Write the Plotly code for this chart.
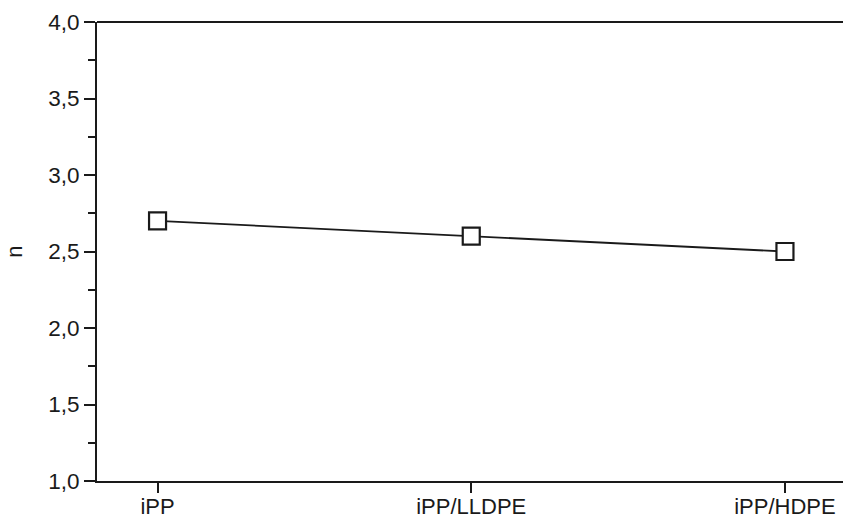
import plotly.graph_objects as go

categories = ["iPP", "iPP/LLDPE", "iPP/HDPE"]
n_values = [2.7, 2.6, 2.5]
y_tick_values = [1.0, 1.5, 2.0, 2.5, 3.0, 3.5, 4.0]
y_tick_labels = ["1,0", "1,5", "2,0", "2,5", "3,0", "3,5", "4,0"]

FONT = "Liberation Sans, Arial, sans-serif"
INK = "#1a1a1a"

fig = go.Figure()
fig.add_trace(go.Scatter(
    x=list(range(len(categories))),
    y=n_values,
    mode="lines",
    line=dict(color=INK, width=1.8),
    showlegend=False,
))
fig.add_trace(go.Scatter(
    x=list(range(len(categories))),
    y=n_values,
    mode="markers",
    marker=dict(symbol="square", size=17, color="white", line=dict(width=2.2, color=INK)),
    showlegend=False,
))

fig.update_layout(
    width=843, height=521,
    margin=dict(l=97, r=0, t=22, b=40),
    plot_bgcolor="white", paper_bgcolor="white",
    separators=", ",
    font=dict(family=FONT, size=22, color=INK),
    xaxis=dict(
        range=[-0.193, 2.185],
        tickmode="array",
        tickvals=list(range(len(categories))),
        ticktext=categories,
        ticks="outside", ticklen=10, tickwidth=2, tickcolor=INK,
        ticklabelstandoff=-5,
        showline=True, linecolor=INK, linewidth=2,
        showgrid=False, zeroline=False,
        mirror=False, automargin=False,
        tickfont=dict(family=FONT, size=22, color=INK),
    ),
    yaxis=dict(
        range=[1.0, 4.0],
        tickmode="array",
        tickvals=y_tick_values,
        ticktext=y_tick_labels,
        ticks="outside", ticklen=11, tickwidth=2, tickcolor=INK,
        minor=dict(dtick=0.25, ticks="outside", ticklen=7, tickwidth=2, tickcolor=INK, showgrid=False),
        showline=True, linecolor=INK, linewidth=2,
        showgrid=False, zeroline=False, automargin=False,
        tickfont=dict(family=FONT, size=22.5, color=INK),
        title=dict(text="n", standoff=20, font=dict(family=FONT, size=22, color=INK)),
    ),
    shapes=[dict(type="line", xref="paper", yref="paper", x0=0, x1=1, y0=1, y1=1,
                 line=dict(color=INK, width=2))],
)

fig.write_html("out.html", config={"displayModeBar": False},
               post_script="document.body.style.margin='0';document.body.style.overflow='hidden';")
